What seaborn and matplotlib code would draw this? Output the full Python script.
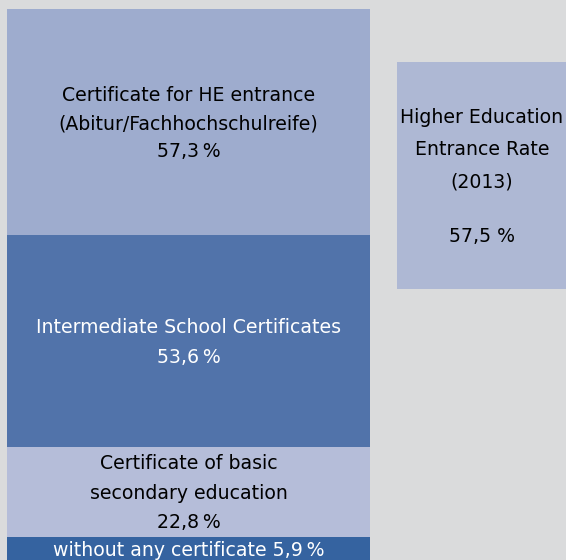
import matplotlib
matplotlib.use("Agg")
import matplotlib.pyplot as plt
import seaborn as sns
import pandas as pd
import numpy as np

# ---- data ----
segments = ["without any certificate", "Certificate of basic secondary education",
            "Intermediate School Certificates", "Certificate for HE entrance"]
shares = [5.9, 22.8, 53.6, 57.3]
labels = ["without any certificate 5,9\u2009%",
          "Certificate of basic\nsecondary education\n22,8\u2009%",
          "Intermediate School Certificates\n53,6\u2009%",
          "Certificate for HE entrance\n(Abitur/Fachhochschulreife)\n57,3\u2009%"]
seg_colors = ["#3563a0", "#b5bdd9", "#5173aa", "#9eacce"]
text_colors = ["white", "black", "white", "black"]

rate_value = 57.5
rate_base = 68.6
rate_title = "Higher Education\nEntrance Rate\n(2013)"
rate_text = "57,5 %"
rate_color = "#aeb8d4"

categories = ["school leavers", "rate"]

sns.set_theme(style="white")
plt.rcParams["font.family"] = ["DejaVu Sans"]

fig = plt.figure(figsize=(5.66, 5.60), dpi=100)
fig.patch.set_facecolor("#dadbdc")
ax = fig.add_axes([0, 0, 1, 1])
ax.set_facecolor("#dadbdc")

cum = np.cumsum(shares)
df = pd.DataFrame({"cat": categories[0], "segment": segments, "cum": cum})

# overlapping cumulative bars, largest first
for i in range(len(segments) - 1, -1, -1):
    sns.barplot(data=df.iloc[[i]], x="cat", y="cum", order=categories,
                color=seg_colors[i], saturation=1, width=0.93,
                linewidth=0, ax=ax)

# right box (entrance rate)
ax.bar([1], [rate_value], bottom=[rate_base], width=0.93, color=rate_color,
       linewidth=0)

# labels
fs = 13.6
spacings = [1.7, 1.7, 1.7, 1.62]
bottoms = np.concatenate([[0], cum[:-1]])
for i in range(len(segments)):
    yc = bottoms[i] + shares[i] / 2 - 0.45
    if i == 0:
        yc = bottoms[i] + shares[i] / 2 - 0.5
    ax.text(0, yc, labels[i], ha="center", va="center", fontsize=fs,
            color=text_colors[i], linespacing=spacings[i])

ax.text(0.7526, rate_base + 35.2, rate_title, ha="center",
        va="center", fontsize=fs, color="black", linespacing=1.88)
ax.text(0.7526, rate_base + 13.2, rate_text, ha="center",
        va="center", fontsize=fs, color="black")

ax.set_xlim(-0.4833, 0.968)
ax.set_ylim(0, 141.77)
ax.axis("off")

fig.savefig("out.png", dpi=100, facecolor=fig.get_facecolor())
